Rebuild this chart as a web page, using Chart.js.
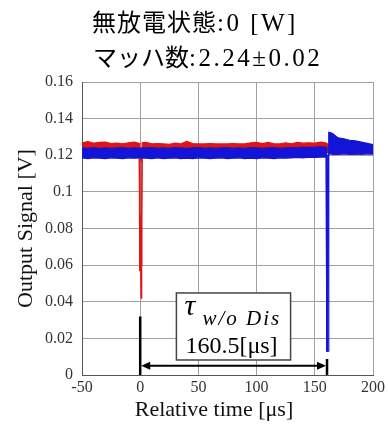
<!DOCTYPE html>
<html>
<head>
<meta charset="utf-8">
<script src="https://cdn.jsdelivr.net/npm/chart.js@4"></script>
<style>
  html, body { margin: 0; padding: 0; background: #fff; }
  #wrap { width: 388px; height: 426px; }
</style>
</head>
<body>
<div id="wrap"><canvas id="signal"></canvas></div>
<script>
const ctx = document.getElementById('signal').getContext('2d');

// title lines (Japanese part, number part)
const titleLines = [['無放電状態', ':0 [W]'], ['マッハ数', ':2.24±0.02']];
const xTitle = 'Relative time [μs]';
const yTitle = 'Output Signal [V]';

// tick labels
const xTickLabels = ['-50', '0', '50', '100', '150', '200'];
const yTickLabels = ['0', '0.02', '0.04', '0.06', '0.08', '0.1', '0.12', '0.14', '0.16'];

// red trace (envelope of the noisy signal), time in µs
const redT = [-50, -45, -40, -35, -30, -25, -20, -15, -10, -5,
    -0.8, -0.6, -0.2, 0.5, 0.8, 1.3, 1.7,
    5, 10, 15, 20, 25, 30, 35, 40, 45, 50, 55, 60, 65, 70, 75, 80,
    85, 90, 95, 100, 105, 110, 115, 120, 125, 130, 135, 140, 145, 150, 155, 160,
    161, 165, 170, 175, 180, 185, 190, 195, 200];
const redHi = [0.1268, 0.1275, 0.1266, 0.1270, 0.1272, 0.1264, 0.1266, 0.1262, 0.1268, 0.1272,
    0.1265, 0.087, 0.088, 0.086, 0.060, 0.087, 0.1268,
    0.1270, 0.1262, 0.1264, 0.1262, 0.1260, 0.1266, 0.1262, 0.1276, 0.1264, 0.1262, 0.1262, 0.1264, 0.1262, 0.1262, 0.1262, 0.1264,
    0.1262, 0.1262, 0.1268, 0.1270, 0.1264, 0.1270, 0.1262, 0.1262, 0.1268, 0.1262, 0.1270, 0.1266, 0.1268, 0.1266, 0.1272, 0.1266,
    0.1262, 0.1258, 0.1256, 0.1258, 0.1254, 0.1252, 0.1256, 0.1250, 0.1252];
const redLo = [0.1215, 0.1214, 0.1216, 0.1215, 0.1214, 0.1216, 0.1215, 0.1214, 0.1216, 0.1215,
    0.1215, 0.087, 0.057, 0.057, 0.042, 0.087, 0.1215,
    0.1218, 0.1216, 0.1218, 0.1217, 0.1218, 0.1216, 0.1218, 0.1217, 0.1218, 0.1216, 0.1218, 0.1217, 0.1218, 0.1216, 0.1218, 0.1217,
    0.1218, 0.1216, 0.1218, 0.1217, 0.1218, 0.1216, 0.1218, 0.1217, 0.1218, 0.1216, 0.1218, 0.1217, 0.1218, 0.1216, 0.1218, 0.1217,
    0.1215, 0.1210, 0.1205, 0.1212, 0.1208, 0.1205, 0.1212, 0.1215, 0.1212];

// blue trace
const blueT = [-50, -45, -40, -35, -30, -25, -20, -15, -10, -5,
    -0.6, 0, 0.6,
    5, 10, 15, 20, 25, 30, 35, 40, 45, 50, 55, 60, 65, 70, 75, 80,
    85, 90, 95, 100, 105, 110, 115, 120, 125, 130, 135, 140, 145, 150, 155,
    159.8, 160.3, 160.8, 161.4, 162,
    165, 170, 175, 180, 185, 190, 195, 200];
const blueHi = [0.1240, 0.1238, 0.1242, 0.1238, 0.1240, 0.1238, 0.1240, 0.1242, 0.1238, 0.1240,
    0.1238, 0.1225, 0.1240,
    0.1240, 0.1242, 0.1238, 0.1240, 0.1238, 0.1242, 0.1240, 0.1238, 0.1240, 0.1242, 0.1238, 0.1240, 0.1238, 0.1240, 0.1242, 0.1238,
    0.1240, 0.1238, 0.1242, 0.1240, 0.1238, 0.1240, 0.1242, 0.1238, 0.1240, 0.1242, 0.1240, 0.1244, 0.1242, 0.1244, 0.1246,
    0.1244, 0.013, 0.013, 0.1200, 0.1325,
    0.1320, 0.1295, 0.1290, 0.1282, 0.1278, 0.1272, 0.1265, 0.1258];
const blueLo = [0.1185, 0.1182, 0.1186, 0.1184, 0.1182, 0.1186, 0.1184, 0.1182, 0.1186, 0.1184,
    0.1185, 0.1200, 0.1185,
    0.1184, 0.1182, 0.1186, 0.1182, 0.1184, 0.1186, 0.1182, 0.1184, 0.1182, 0.1186, 0.1184, 0.1182, 0.1184, 0.1186, 0.1182, 0.1184,
    0.1186, 0.1182, 0.1184, 0.1182, 0.1186, 0.1184, 0.1182, 0.1186, 0.1184, 0.1186, 0.1188, 0.1186, 0.1190, 0.1188, 0.1190,
    0.1190, 0.013, 0.013, 0.013, 0.1210,
    0.1205, 0.1205, 0.1208, 0.1205, 0.1208, 0.1205, 0.1208, 0.1206];

// annotation (data units): markers, arrow and label box
const markStart = 0, markEnd = 160.5;
const markStartTop = 0.032, markEndTop = 0.0087, arrowY = 0.0051;
const boxX = [31.1, 129.2], boxY = [0.0082, 0.0448];
const boxLabel = ['τ', 'w/o Dis', '160.5[μs]'];

const RED = 'rgb(225,20,20)';
const BLUE = 'rgb(20,20,215)';
const SERIF = "'Liberation Serif'";

function pts(t, v) { return t.map((x, i) => ({ x: x, y: v[i] })); }

// text with a little extra space between letters
function spacedText(c, str, x, y, gap) {
    for (const ch of str) {
        c.fillText(ch, x, y);
        x += c.measureText(ch).width + gap;
    }
    return x;
}

// title lines above the plot + x axis title
const textPlugin = {
    id: 'titleText',
    afterDraw(chart) {
        const c = chart.ctx;
        const rows = [[92, 31, 1], [93, 66, 0]];
        c.save();
        c.fillStyle = '#000';
        c.textBaseline = 'alphabetic';
        c.textAlign = 'left';
        titleLines.forEach((line, i) => {
            const [x, y, gap] = rows[i];
            c.font = "24px 'Noto Sans CJK JP'";
            const xe = spacedText(c, line[0], x, y, gap);
            c.font = '25px ' + SERIF;
            spacedText(c, line[1], xe, y, 2.5);
        });
        c.font = '22px ' + SERIF;
        c.textAlign = 'center';
        c.fillStyle = '#111';
        c.fillText(xTitle, 214, 416);
        c.restore();
    }
};

// τ arrow and box
const markPlugin = {
    id: 'tauMark',
    afterDatasetsDraw(chart) {
        const c = chart.ctx, xs = chart.scales.x, ys = chart.scales.y;
        const x0 = xs.getPixelForValue(markStart), x1 = xs.getPixelForValue(markEnd);
        const yb = ys.getPixelForValue(0);
        const ya = ys.getPixelForValue(arrowY);
        c.save();
        c.strokeStyle = '#000';
        c.fillStyle = '#000';
        c.lineWidth = 2.5;
        c.beginPath();
        c.moveTo(x0, yb); c.lineTo(x0, ys.getPixelForValue(markStartTop));
        c.moveTo(x1, yb); c.lineTo(x1, ys.getPixelForValue(markEndTop));
        c.stroke();
        // double arrow
        c.lineWidth = 2;
        c.beginPath();
        c.moveTo(x0 + 6, ya); c.lineTo(x1 - 6, ya);
        c.stroke();
        c.beginPath();
        c.moveTo(x0 + 1, ya); c.lineTo(x0 + 10, ya - 4); c.lineTo(x0 + 10, ya + 4); c.closePath();
        c.moveTo(x1 - 1, ya); c.lineTo(x1 - 10, ya - 4); c.lineTo(x1 - 10, ya + 4); c.closePath();
        c.fill();

        // box
        const bl = xs.getPixelForValue(boxX[0]), br = xs.getPixelForValue(boxX[1]);
        const bt = ys.getPixelForValue(boxY[1]), bb = ys.getPixelForValue(boxY[0]);
        c.fillStyle = '#fff';
        c.fillRect(bl, bt, br - bl, bb - bt);
        c.strokeStyle = '#444';
        c.lineWidth = 1.5;
        c.strokeRect(bl, bt, br - bl, bb - bt);
        c.fillStyle = '#000';
        c.textAlign = 'left';
        c.textBaseline = 'alphabetic';
        c.font = 'italic 30px ' + SERIF;
        c.fillText(boxLabel[0], bl + 8, bt + 22);
        c.font = 'italic 21px ' + SERIF;
        spacedText(c, boxLabel[1], bl + 26, bt + 32, 2);
        c.font = '24px ' + SERIF;
        c.fillText(boxLabel[2], bl + 9, bt + 60);
        c.restore();
    }
};

const chart = new Chart(ctx, {
    type: 'line',
    data: {
        datasets: [
            { label: 'blue hi', data: pts(blueT, blueHi), borderColor: BLUE, backgroundColor: BLUE,
              borderWidth: 1.2, fill: '+1', order: 0 },
            { label: 'blue lo', data: pts(blueT, blueLo), borderColor: BLUE, backgroundColor: BLUE,
              borderWidth: 1.2, fill: false, order: 0 },
            { label: 'red hi', data: pts(redT, redHi), borderColor: RED, backgroundColor: RED,
              borderWidth: 1.2, fill: '+1', order: 1 },
            { label: 'red lo', data: pts(redT, redLo), borderColor: RED, backgroundColor: RED,
              borderWidth: 1.2, fill: false, order: 1 }
        ]
    },
    options: {
        responsive: true,
        maintainAspectRatio: false,
        animation: false,
        layout: { padding: { top: 82, right: 13, left: 0, bottom: 0 } },
        elements: { point: { radius: 0 }, line: { tension: 0 } },
        plugins: { legend: { display: false }, tooltip: { enabled: false } },
        scales: {
            x: {
                type: 'linear', min: -50, max: 200,
                afterFit(s) { s.height = 51; },
                ticks: {
                    stepSize: 50, padding: 3, color: '#333',
                    font: { family: SERIF, size: 16 },
                    callback: (v) => xTickLabels[Math.round((v + 50) / 50)]
                },
                grid: { color: '#a0a0a0', drawTicks: false },
                border: { color: '#555' }
            },
            y: {
                min: 0, max: 0.16,
                afterFit(s) { s.width = 82; },
                ticks: {
                    stepSize: 0.02, padding: 9, color: '#333',
                    font: { family: SERIF, size: 16 },
                    callback: (v) => yTickLabels[Math.round(v / 0.02)]
                },
                grid: { color: '#a0a0a0', drawTicks: false },
                border: { color: '#555' },
                title: { display: true, text: yTitle, color: '#111',
                    font: { family: SERIF, size: 22 }, padding: { top: 13, bottom: 0 } }
            }
        }
    },
    plugins: [textPlugin, markPlugin]
});
</script>
</body>
</html>
